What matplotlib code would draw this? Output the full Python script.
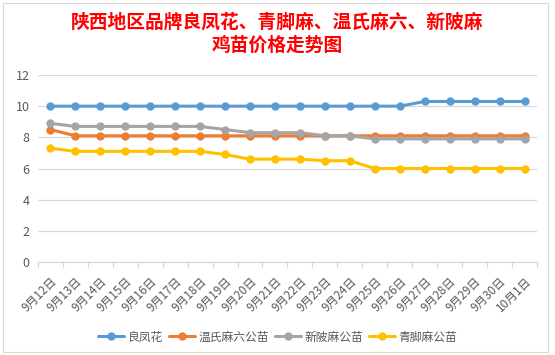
import matplotlib
matplotlib.use("Agg")
import matplotlib.pyplot as plt
from matplotlib.patches import Rectangle

plt.rcParams['font.family'] = ['Noto Sans CJK SC', 'DejaVu Sans']

dates = ["9月12日", "9月13日", "9月14日", "9月15日", "9月16日", "9月17日", "9月18日",
         "9月19日", "9月20日", "9月21日", "9月22日", "9月23日", "9月24日", "9月25日",
         "9月26日", "9月27日", "9月28日", "9月29日", "9月30日", "10月1日"]
liangfenghua = [10, 10, 10, 10, 10, 10, 10, 10, 10, 10, 10, 10, 10, 10, 10,
                10.3, 10.3, 10.3, 10.3, 10.3]
wenshi = [8.5, 8.1, 8.1, 8.1, 8.1, 8.1, 8.1, 8.1, 8.1, 8.1, 8.1, 8.1, 8.1, 8.1,
          8.1, 8.1, 8.1, 8.1, 8.1, 8.1]
xinling = [8.9, 8.7, 8.7, 8.7, 8.7, 8.7, 8.7, 8.5, 8.3, 8.3, 8.3, 8.1, 8.1, 7.9,
           7.9, 7.9, 7.9, 7.9, 7.9, 7.9]
qingjiao = [7.3, 7.1, 7.1, 7.1, 7.1, 7.1, 7.1, 6.9, 6.6, 6.6, 6.6, 6.5, 6.5, 6.0,
            6.0, 6.0, 6.0, 6.0, 6.0, 6.0]
series_names = ["良凤花", "温氏麻六公苗", "新陂麻公苗", "青脚麻公苗"]
colors = ["#5B9BD5", "#ED7D31", "#A5A5A5", "#FFC000"]
yticks = [0, 2, 4, 6, 8, 10, 12]

fig = plt.figure(figsize=(5.55, 3.55), dpi=100)
fig.patch.set_facecolor("white")
# chart border
fig.add_artist(Rectangle((3 / 555, 3 / 355), 545 / 555, 349 / 355, transform=fig.transFigure,
                         fill=False, edgecolor="#D9D9D9", linewidth=0.8))

ax = fig.add_axes([37.9 / 555, 1 - 262 / 355, (537 - 37.9) / 555, (262 - 75) / 355])
x = list(range(len(dates)))
for name, vals, c in zip(series_names, [liangfenghua, wenshi, xinling, qingjiao], colors):
    ax.plot(x, vals, color=c, linewidth=2.2, marker="o", markersize=5, label=name,
            solid_capstyle="round")

ax.set_ylim(0, 12)
ax.set_xlim(-0.5, len(dates) - 0.5)
ax.set_yticks(yticks)
ax.set_yticklabels([str(v) for v in yticks])
ax.yaxis.grid(True, color="#D9D9D9", linewidth=0.9)
ax.set_axisbelow(True)
for s in ["top", "right", "left"]:
    ax.spines[s].set_visible(False)
ax.spines["bottom"].set_color("#D9D9D9")
ax.spines["bottom"].set_linewidth(0.9)
ax.tick_params(axis="y", length=0, labelsize=9, labelcolor="#595959", pad=6)

ax.set_xticks(x)
ax.set_xticklabels(dates, rotation=45, ha="right", va="top", rotation_mode="anchor",
                   fontsize=8.5, color="#595959")
ax.tick_params(axis="x", length=0, pad=9)
# boundary tick marks
for b in [i - 0.5 for i in range(len(dates) + 1)]:
    ax.plot([b, b], [0, -0.35], color="#D9D9D9", linewidth=0.9, clip_on=False)

fig.text(0.5, 1 - 22 / 355, "陕西地区品牌良凤花、青脚麻、温氏麻六、新陂麻", ha="center", va="center",
         color="#FF0000", fontsize=13.5, fontweight="bold")
fig.text(0.5, 1 - 45.5 / 355, "鸡苗价格走势图", ha="center", va="center",
         color="#FF0000", fontsize=13.5, fontweight="bold")

fig.legend(loc="center", bbox_to_anchor=(0.5, 1 - 337 / 355), ncol=4, frameon=False,
           fontsize=8.5, labelcolor="#595959", handlelength=2.2, columnspacing=0.5,
           handletextpad=0.3)

fig.savefig("out.png", dpi=100)
